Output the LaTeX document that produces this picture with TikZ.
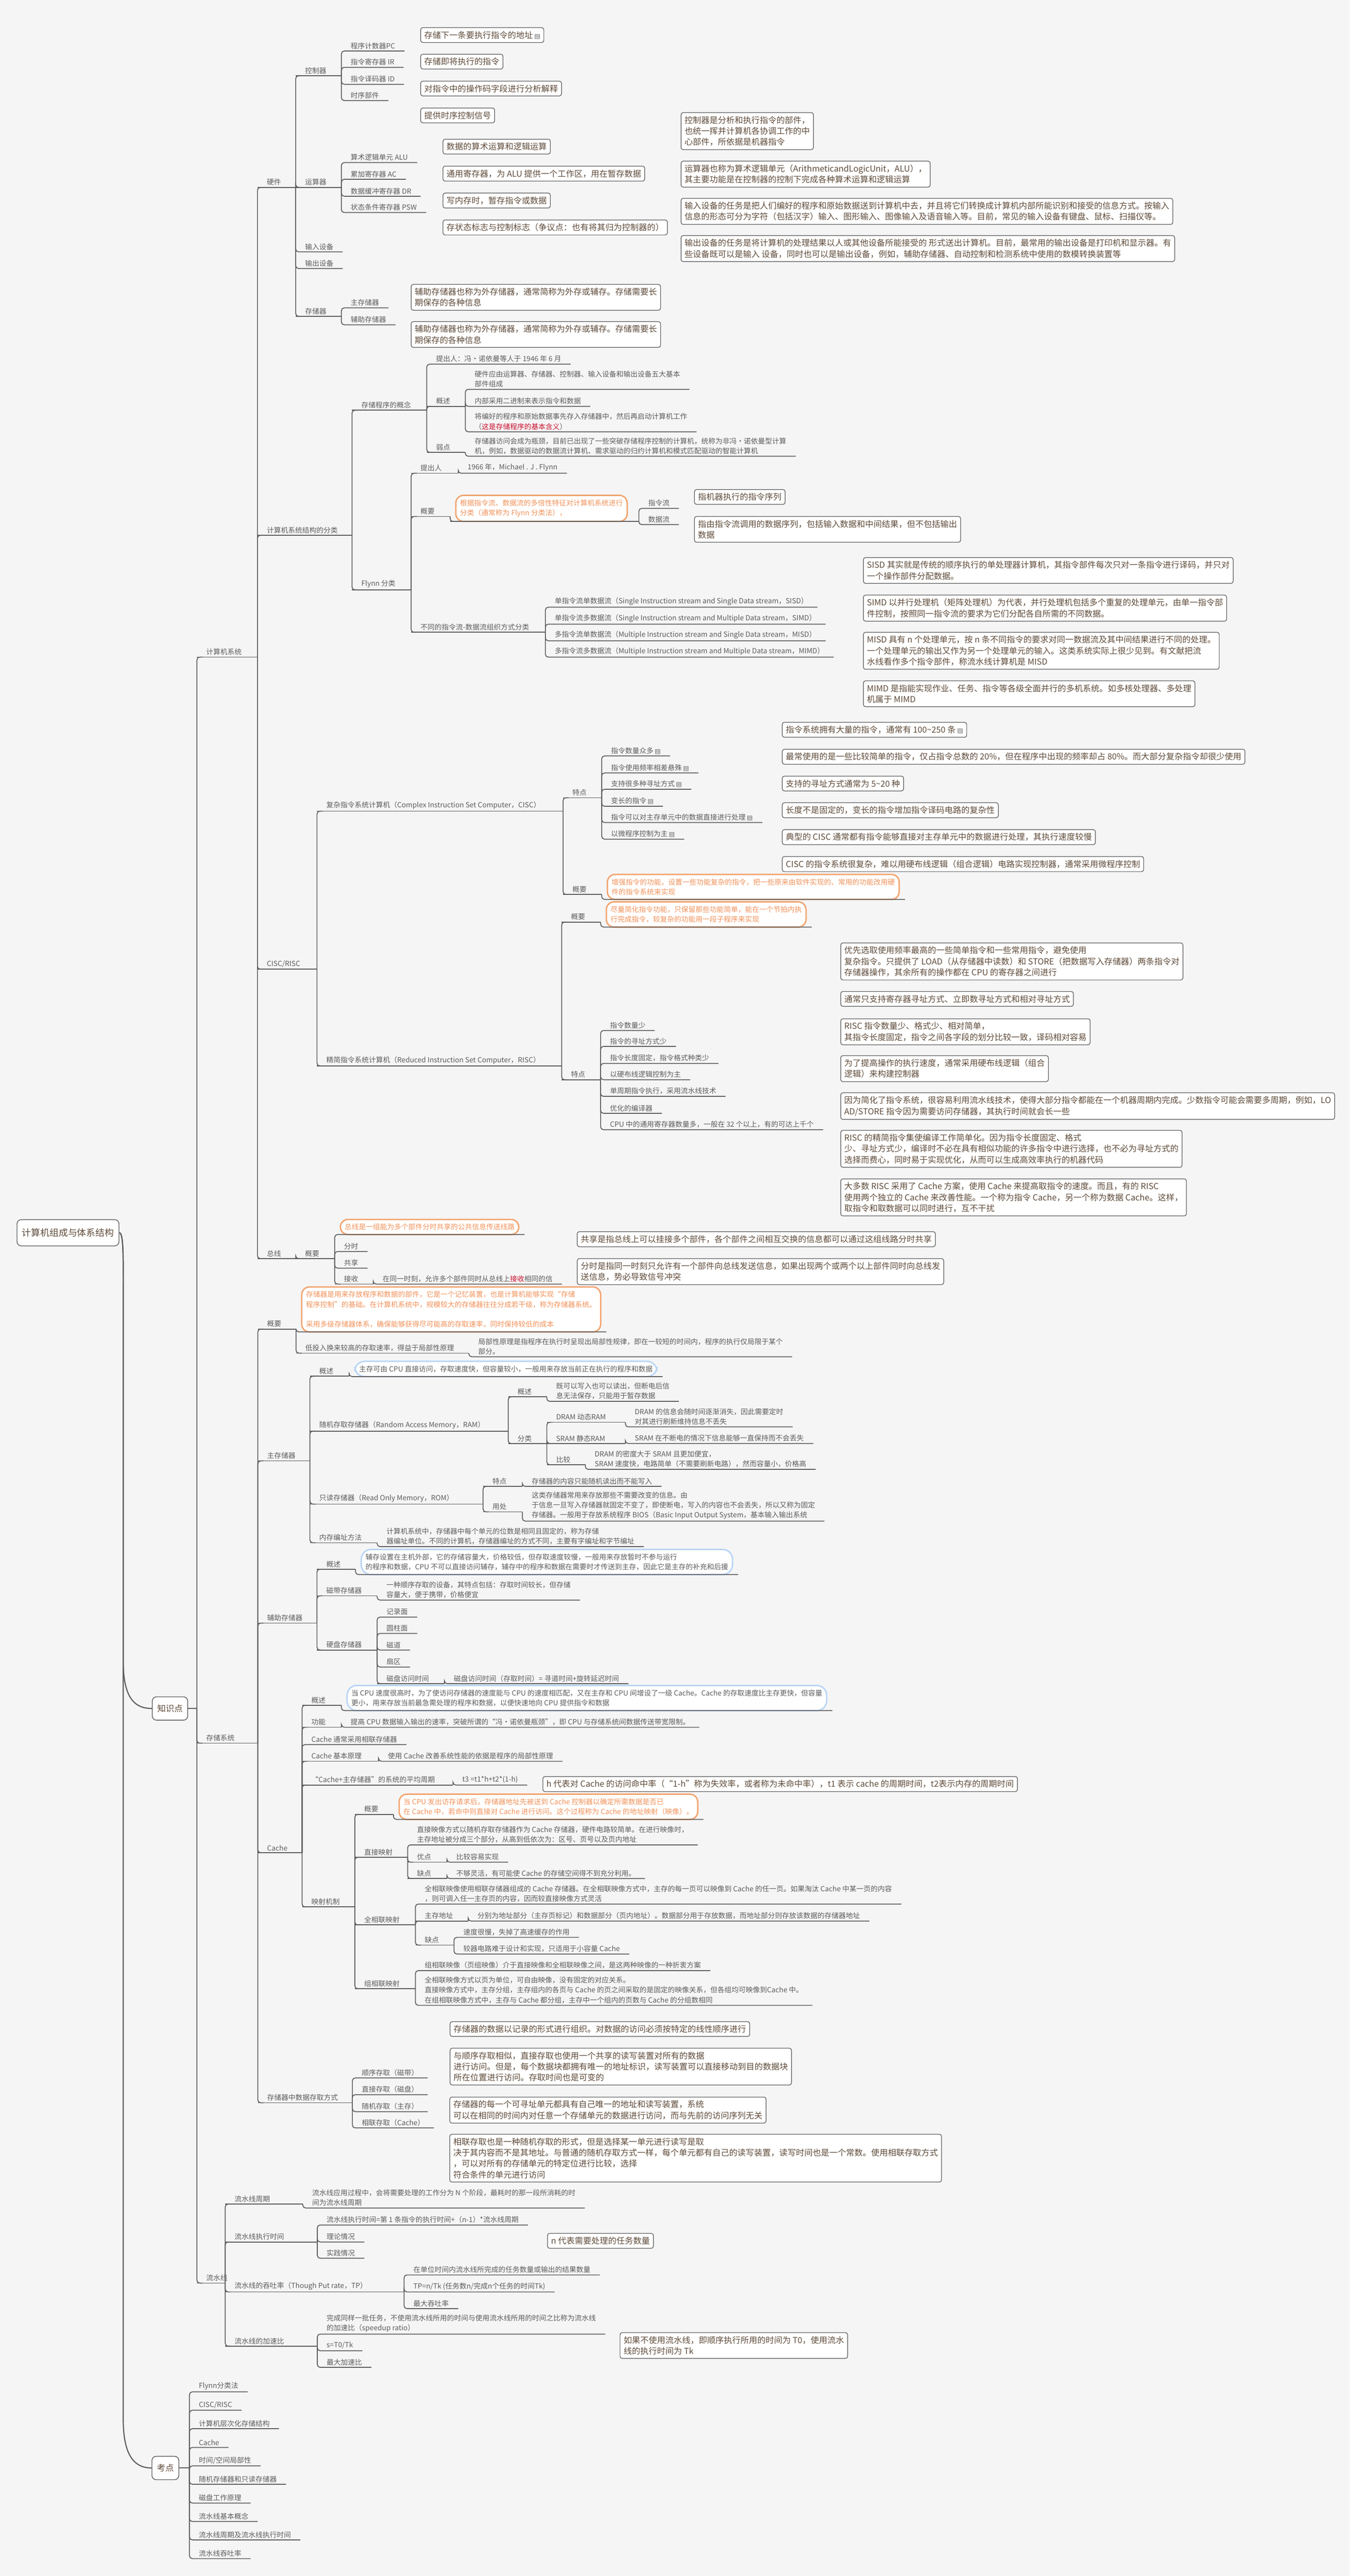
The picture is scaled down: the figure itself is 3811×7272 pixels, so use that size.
\documentclass[tikz,border=0pt]{standalone}
\usepackage{fontspec}
\setmainfont{Noto Sans CJK SC}
\newfontfamily\symf{DejaVu Sans}

\definecolor{bgcol}{HTML}{F5F5F5}
\definecolor{lncol}{HTML}{5E5E5E}
\definecolor{txtcol}{HTML}{5C5C5C}
\definecolor{btxt}{HTML}{5E4B3A}
\definecolor{boxcol}{HTML}{5A5A5A}
\definecolor{orcol}{HTML}{F3A46F}
\definecolor{ortxt}{HTML}{F0925A}
\definecolor{blcol}{HTML}{B8D5F6}
\definecolor{redcol}{HTML}{C8102E}
\definecolor{icocol}{HTML}{6A6A6A}

\newcommand\ptf{\fontsize{10}{14}\selectfont}
\newcommand\bxf{\fontsize{11.8}{15.5}\selectfont}
\newcommand\nic{\,{\symf\color{icocol}\fontsize{9}{9}\selectfont ▤}}
% link to a leaf: underline of the parent, spine, underline of the child
\newcommand\conn[2]{\draw[ln] (#1) -- (#1 -| #2.south west); \draw[ln,rc] (#1 -| #2.south west) |- (#2.south east);}
% link to a topic that has children of its own
\newcommand\connp[2]{\draw[ln] (#1) -- (#1 -| #2.south west); \draw[ln,rc] (#1 -| #2.south west) |- ([xshift=8pt]#2.south west);}

\begin{document}
\begin{tikzpicture}[x=0.5pt, y=-0.5pt,
  ln/.style={draw=lncol, line width=1.25pt},
  rc/.style={rounded corners=4pt},
  tp/.style={anchor=south west, inner xsep=13pt, inner ysep=2.5pt, text=txtcol, font=\ptf, align=left},
  nb/.style={anchor=north west, draw=boxcol, fill=white, rounded corners=3pt, line width=0.9pt, text=btxt, font=\bxf, inner xsep=5pt, inner ysep=5pt, align=left},
  ob/.style={anchor=south west, draw=orcol, fill=white, line width=2pt, rounded corners=11pt, text=ortxt, font=\ptf, inner xsep=6pt, inner ysep=6pt, outer xsep=8pt, outer ysep=0pt, align=left},
  bb/.style={ob, draw=blcol, text=txtcol, rounded corners=14pt},
  topbox/.style={draw=boxcol, fill=white, rounded corners=6pt, line width=1pt, text=btxt, inner xsep=7pt}]
\fill[bgcol] (0,0) rectangle (3811,7272);
\useasboundingbox (0,0) rectangle (3811,7272);

\node[topbox, font=\fontsize{13}{16}\selectfont, minimum height=37pt] (root) at (192,3480) {计算机组成与体系结构};
\node[topbox, font=\fontsize{12}{14}\selectfont, minimum height=33pt] (zsd) at (480,4823) {知识点};
\node[topbox, font=\fontsize{12}{14}\selectfont, minimum height=33pt] (kd) at (467,6967) {考点};
\draw[ln, line width=1.6pt] (root.east) .. controls (350,3480) and (348,3560) .. (348,3700) -- (348,4690) .. controls (348,4800) and (385,4823) .. (zsd.west);
\draw[ln, line width=1.6pt] (root.east) .. controls (350,3480) and (348,3560) .. (348,3700) -- (348,6830) .. controls (348,6940) and (385,6967) .. (kd.west);

% ---------- 计算机系统
\node[tp] (jsj) at (556,1855) {计算机系统};
\node[tp] (yj) at (727,529) {硬件};
\node[tp] (kzq) at (835,214) {控制器};
\node[tp] (pc) at (964,144) {程序计数器PC};
\node[tp] (ir) at (964,190) {指令寄存器 IR};
\node[tp] (idc) at (964,238) {指令译码器 ID};
\node[tp] (sxbj) at (964,284) {时序部件};
\node[tp] (ysq) at (835,529) {运算器};
\node[tp] (alu) at (964,459) {算术逻辑单元 ALU};
\node[tp] (ac) at (964,506) {累加寄存器 AC};
\node[tp] (dr) at (964,554) {数据缓冲寄存器 DR};
\node[tp] (psw) at (964,600) {状态条件寄存器 PSW};
\node[tp] (srsb) at (835,711) {输入设备};
\node[tp] (scsb) at (835,758) {输出设备};
\node[tp] (ccq) at (835,893) {存储器};
\node[tp] (zcq) at (964,869) {主存储器};
\node[tp] (fzcq) at (964,917) {辅助存储器};
\connp{zsd.east}{jsj} \connp{jsj.south west}{yj}
\connp{yj.south west}{kzq} \connp{yj.south west}{ysq} \conn{yj.south west}{srsb} \conn{yj.south west}{scsb} \connp{yj.south west}{ccq}
\conn{kzq.south west}{pc} \conn{kzq.south west}{ir} \conn{kzq.south west}{idc} \conn{kzq.south west}{sxbj}
\conn{ysq.south west}{alu} \conn{ysq.south west}{ac} \conn{ysq.south west}{dr} \conn{ysq.south west}{psw}
\conn{ccq.south west}{zcq} \conn{ccq.south west}{fzcq}

\node[nb] (npc) at (1187,77) {存储下一条要执行指令的地址\nic};
\node[nb] (nir) at (1187,152) {存储即将执行的指令};
\node[nb] (nid) at (1187,228) {对指令中的操作码字段进行分析解释};
\node[nb] (nsx) at (1187,304) {提供时序控制信号};
\node[nb] (nalu) at (1250,392) {数据的算术运算和逻辑运算};
\node[nb] (nac) at (1250,468) {通用寄存器，为 ALU 提供一个工作区，用在暂存数据};
\node[nb] (ndr) at (1250,544) {写内存时，暂存指令或数据};
\node[nb] (npsw) at (1250,620) {存状态标志与控制标志（争议点：也有将其归为控制器的）};
\node[nb] (nzc) at (1160,802) {辅助存储器也称为外存储器，通常简称为外存或辅存。存储需要长\\期保存的各种信息};
\node[nb] (nfz) at (1160,907) {辅助存储器也称为外存储器，通常简称为外存或辅存。存储需要长\\期保存的各种信息};
\node[nb] (nkzq) at (1922,317) {控制器是分析和执行指令的部件，\\也统一挥并计算机各协调工作的中\\心部件，所依据是机器指令};
\node[nb] (nysq) at (1922,454) {运算器也称为算术逻辑单元（ArithmeticandLogicUnit，ALU），\\其主要功能是在控制器的控制下完成各种算术运算和逻辑运算};
\node[nb] (nsr) at (1922,559) {输入设备的任务是把人们编好的程序和原始数据送到计算机中去，并且将它们转换成计算机内部所能识别和接受的信息方式。按输入\\信息的形态可分为字符（包括汉字）输入、图形输入、图像输入及语音输入等。目前，常见的输入设备有键盘、鼠标、扫描仪等。};
\node[nb] (nsc) at (1922,664) {输出设备的任务是将计算机的处理结果以人或其他设备所能接受的 形式送出计算机。目前，最常用的输出设备是打印机和显示器。有\\些设备既可以是输入 设备，同时也可以是输出设备，例如，辅助存储器、自动控制和检测系统中使用的数模转换装置等};

% ---------- 计算机系统结构的分类
\node[tp] (fl) at (727,1511) {计算机系统结构的分类};
\node[tp] (ccgn) at (994,1158) {存储程序的概念};
\node[tp] (tcr) at (1205,1028) {提出人：冯•诺依曼等人于 1946 年 6 月};
\node[tp] (cgs) at (1205,1147) {概述};
\node[tp] (cg1) at (1314,1099) {硬件应由运算器、存储器、控制器、输入设备和输出设备五大基本\\部件组成};
\node[tp] (cg2) at (1314,1147) {内部采用二进制来表示指令和数据};
\node[tp] (cg3) at (1314,1219) {将编好的程序和原始数据事先存入存储器中，然后再启动计算机工作\\（\textcolor{redcol}{这是存储程序的基本含义}）};
\node[tp] (rd) at (1205,1277) {弱点};
\node[tp] (rd1) at (1314,1288) {存储器访问会成为瓶颈，目前已出现了一些突破存储程序控制的计算机，统称为非冯•诺依曼型计算\\机，例如，数据驱动的数据流计算机、需求驱动的归约计算机和模式匹配驱动的智能计算机};
\connp{jsj.south west}{fl} \connp{fl.south west}{ccgn}
\conn{ccgn.south west}{tcr} \connp{ccgn.south west}{cgs} \connp{ccgn.south west}{rd}
\conn{cgs.south west}{cg1} \conn{cgs.south west}{cg2} \conn{cgs.south west}{cg3}
\conn{rd.south west}{rd1}

\node[tp] (flynn) at (994,1665) {Flynn 分类};
\node[tp] (ftcr) at (1161,1336) {提出人};
\node[tp] (ftcr1) at (1294,1336) {1966 年，Michael . J . Flynn};
\node[tp] (fgy) at (1161,1458) {概要};
\node[ob] (fgyb) at (1271,1472) {根据指令流、数据流的多倍性特征对计算机系统进行\\分类（通常称为 Flynn 分类法），};
\node[tp] (zll) at (1804,1435) {指令流};
\node[tp] (sjl) at (1804,1481) {数据流};
\node[tp] (zzfs) at (1161,1785) {不同的指令流-数据流组织方式分类};
\node[tp] (sisd) at (1540,1714) {单指令流单数据流（Single Instruction stream and Single Data stream，SISD）};
\node[tp] (simd) at (1540,1762) {单指令流多数据流（Single Instruction stream and Multiple Data stream，SIMD）};
\node[tp] (misd) at (1540,1809) {多指令流单数据流（Multiple Instruction stream and Single Data stream，MISD）};
\node[tp] (mimd) at (1540,1855) {多指令流多数据流（Multiple Instruction stream and Multiple Data stream，MIMD）};
\connp{fl.south west}{flynn}
\connp{flynn.south west}{ftcr} \conn{ftcr.south west}{ftcr1}
\connp{flynn.south west}{fgy} \connp{fgy.south west}{fgyb}
\conn{fgyb.south west}{zll} \conn{fgyb.south west}{sjl}
\connp{flynn.south west}{zzfs}
\conn{zzfs.south west}{sisd} \conn{zzfs.south west}{simd} \conn{zzfs.south west}{misd} \conn{zzfs.south west}{mimd}

\node[nb] (nzll) at (1960,1381) {指机器执行的指令序列};
\node[nb] (nsjl) at (1960,1457) {指由指令流调用的数据序列，包括输入数据和中间结果，但不包括输出\\数据};
\node[nb] (nsisd) at (2437,1573) {SISD 其实就是传统的顺序执行的单处理器计算机，其指令部件每次只对一条指令进行译码，并只对\\一个操作部件分配数据。};
\node[nb] (nsimd) at (2437,1679) {SIMD 以并行处理机（矩阵处理机）为代表，并行处理机包括多个重复的处理单元，由单一指令部\\件控制，按照同一指令流的要求为它们分配各自所需的不同数据。};
\node[nb] (nmisd) at (2437,1784) {MISD 具有 n 个处理单元，按 n 条不同指令的要求对同一数据流及其中间结果进行不同的处理。\\一个处理单元的输出又作为另一个处理单元的输入。这类系统实际上很少见到。有文献把流\\水线看作多个指令部件，称流水线计算机是 MISD};
\node[nb] (nmimd) at (2437,1921) {MIMD 是指能实现作业、任务、指令等各级全面并行的多机系统。如多核处理器、多处理\\机属于 MIMD};

% ---------- CISC/RISC
\node[tp] (cr) at (727,2736) {CISC/RISC};
\node[tp] (cisc) at (895,2290) {复杂指令系统计算机（Complex Instruction Set Computer，CISC）};
\node[tp] (ctd) at (1590,2252) {特点};
\node[tp] (ct1) at (1699,2134) {指令数量众多\nic};
\node[tp] (ct2) at (1699,2182) {指令使用频率相差悬殊\nic};
\node[tp] (ct3) at (1699,2228) {支持很多种寻址方式\nic};
\node[tp] (ct4) at (1699,2276) {变长的指令\nic};
\node[tp] (ct5) at (1699,2322) {指令可以对主存单元中的数据直接进行处理\nic};
\node[tp] (ct6) at (1699,2369) {以微程序控制为主\nic};
\node[tp] (cgy) at (1590,2525) {概要};
\node[ob] (cgyb) at (1699,2539) {增强指令的功能，设置一些功能复杂的指令，把一些原来由软件实现的、常用的功能改用硬\\件的指令系统来实现};
\connp{jsj.south west}{cr} \connp{cr.south west}{cisc}
\connp{cisc.south west}{ctd} \connp{cisc.south west}{cgy}
\conn{ctd.south west}{ct1} \conn{ctd.south west}{ct2} \conn{ctd.south west}{ct3}
\conn{ctd.south west}{ct4} \conn{ctd.south west}{ct5} \conn{ctd.south west}{ct6}
\conn{cgy.south west}{cgyb}

\node[nb] (nct1) at (2208,2038) {指令系统拥有大量的指令，通常有 100\textasciitilde 250 条\nic};
\node[nb] (nct2) at (2208,2114) {最常使用的是一些比较简单的指令，仅占指令总数的 20\%，但在程序中出现的频率却占 80\%。而大部分复杂指令却很少使用};
\node[nb] (nct3) at (2208,2190) {支持的寻址方式通常为 5\textasciitilde 20 种};
\node[nb] (nct4) at (2208,2265) {长度不是固定的，变长的指令增加指令译码电路的复杂性};
\node[nb] (nct5) at (2208,2341) {典型的 CISC 通常都有指令能够直接对主存单元中的数据进行处理，其执行速度较慢};
\node[nb] (nct6) at (2208,2417) {CISC 的指令系统很复杂，难以用硬布线逻辑（组合逻辑）电路实现控制器，通常采用微程序控制};

\node[tp] (risc) at (895,3009) {精简指令系统计算机（Reduced Instruction Set Computer，RISC）};
\node[tp] (rgy) at (1586,2603) {概要};
\node[ob] (rgyb) at (1696,2617) {尽量简化指令功能，只保留那些功能简单，能在一个节拍内执\\行完成指令，较复杂的功能用一段子程序来实现};
\node[tp] (rtd) at (1586,3048) {特点};
\node[tp] (rt1) at (1696,2909) {指令数量少};
\node[tp] (rt2) at (1696,2954) {指令的寻址方式少};
\node[tp] (rt3) at (1696,3002) {指令长度固定，指令格式种类少};
\node[tp] (rt4) at (1696,3048) {以硬布线逻辑控制为主};
\node[tp] (rt5) at (1696,3095) {单周期指令执行，采用流水线技术};
\node[tp] (rt6) at (1696,3143) {优化的编译器};
\node[tp] (rt7) at (1696,3189) {CPU 中的通用寄存器数量多，一般在 32 个以上，有的可达上千个};
\connp{cr.south west}{risc}
\connp{risc.south west}{rgy} \conn{rgy.south west}{rgyb}
\connp{risc.south west}{rtd}
\conn{rtd.south west}{rt1} \conn{rtd.south west}{rt2} \conn{rtd.south west}{rt3} \conn{rtd.south west}{rt4}
\conn{rtd.south west}{rt5} \conn{rtd.south west}{rt6} \conn{rtd.south west}{rt7}

\node[nb] (nrt1) at (2373,2661) {优先选取使用频率最高的一些简单指令和一些常用指令，避免使用\\复杂指令。只提供了 LOAD（从存储器中读数）和 STORE（把数据写入存储器）两条指令对\\存储器操作，其余所有的操作都在 CPU 的寄存器之间进行};
\node[nb] (nrt2) at (2373,2798) {通常只支持寄存器寻址方式、立即数寻址方式和相对寻址方式};
\node[nb] (nrt3) at (2373,2875) {RISC 指令数量少、格式少、相对简单，\\其指令长度固定，指令之间各字段的划分比较一致，译码相对容易};
\node[nb] (nrt4) at (2373,2979) {为了提高操作的执行速度，通常采用硬布线逻辑（组合\\逻辑）来构建控制器};
\node[nb] (nrt5) at (2373,3084) {因为简化了指令系统，很容易利用流水线技术，使得大部分指令都能在一个机器周期内完成。少数指令可能会需要多周期，例如，LO\\AD/STORE 指令因为需要访问存储器，其执行时间就会长一些};
\node[nb] (nrt6) at (2373,3190) {RISC 的精简指令集使编译工作简单化。因为指令长度固定、格式\\少、寻址方式少，编译时不必在具有相似功能的许多指令中进行选择，也不必为寻址方式的\\选择而费心，同时易于实现优化，从而可以生成高效率执行的机器代码};
\node[nb] (nrt7) at (2373,3327) {大多数 RISC 采用了 Cache 方案，使用 Cache 来提高取指令的速度。而且，有的 RISC\\使用两个独立的 Cache 来改善性能。一个称为指令 Cache，另一个称为数据 Cache。这样，\\取指令和取数据可以同时进行，互不干扰};

% ---------- 总线
\node[tp] (zx) at (727,3553) {总线};
\node[tp] (zxgy) at (835,3553) {概要};
\node[ob] (zxdy) at (945,3485) {总线是一组能为多个部件分时共享的公共信息传送线路};
\node[tp] (fs) at (945,3533) {分时};
\node[tp] (gx) at (945,3580) {共享};
\node[tp] (js) at (945,3625) {接收};
\node[tp] (js1) at (1054,3625) {在同一时刻，允许多个部件同时从总线上\textcolor{redcol}{接收}相同的信};
\connp{jsj.south west}{zx} \connp{zx.south west}{zxgy}
\conn{zxgy.south west}{zxdy} \conn{zxgy.south west}{fs} \conn{zxgy.south west}{gx} \connp{zxgy.south west}{js}
\conn{js.south west}{js1}
\node[nb] (ngx) at (1629,3476) {共享是指总线上可以挂接多个部件，各个部件之间相互交换的信息都可以通过这组线路分时共享};
\node[nb] (nfs) at (1629,3552) {分时是指同一时刻只允许有一个部件向总线发送信息，如果出现两个或两个以上部件同时向总线发\\送信息，势必导致信号冲突};

% ---------- 存储系统
\node[tp] (ccxt) at (556,4921) {存储系统};
\connp{zsd.east}{ccxt}
\node[tp] (sgy) at (728,3752) {概要};
\node[ob] (sgyb) at (836,3760) {存储器是用来存放程序和数据的部件，它是一个记忆装置，也是计算机能够实现“存储\\程序控制”的基础。在计算机系统中，规模较大的存储器往往分成若干级，称为存储器系统。\\[14pt]采用多级存储器体系，确保能够获得尽可能高的存取速率，同时保持较低的成本};
\node[tp] (jbx) at (836,3820) {低投入换来较高的存取速率，得益于局部性原理};
\node[tp] (jbx1) at (1324,3830) {局部性原理是指程序在执行时呈现出局部性规律，即在一较短的时间内，程序的执行仅局限于某个\\部分。};
\connp{ccxt.south west}{sgy}
\conn{sgy.south west}{sgyb} \connp{sgy.south west}{jbx} \conn{jbx.south west}{jbx1}

\node[tp] (zc) at (728,4124) {主存储器};
\node[tp] (zgs) at (875,3885) {概述};
\node[bb] (zgsb) at (986,3886) {主存可由 CPU 直接访问，存取速度快，但容量较小，一般用来存放当前正在执行的程序和数据};
\node[tp] (ram) at (875,4040) {随机存取存储器（Random Access Memory，RAM）};
\node[tp] (rgs) at (1435,3943) {概述};
\node[tp] (rgs1) at (1544,3956) {既可以写入也可以读出，但断电后信\\息无法保存，只能用于暂存数据};
\node[tp] (rfl) at (1435,4075) {分类};
\node[tp] (dram) at (1544,4015) {DRAM 动态RAM};
\node[tp] (dram1) at (1766,4028) {DRAM 的信息会随时间逐渐消失，因此需要定时\\对其进行刷新维持信息不丢失};
\node[tp] (sram) at (1544,4075) {SRAM 静态RAM};
\node[tp] (sram1) at (1766,4075) {SRAM 在不断电的情况下信息能够一直保持而不会丢失};
\node[tp] (bj) at (1544,4135) {比较};
\node[tp] (bj1) at (1653,4148) {DRAM 的密度大于 SRAM 且更加便宜，\\SRAM 速度快，电路简单（不需要刷新电路），然而容量小，价格高};
\node[tp] (rom) at (875,4246) {只读存储器（Read Only Memory，ROM）};
\node[tp] (otd) at (1364,4196) {特点};
\node[tp] (otd1) at (1475,4196) {存储器的内容只能随机读出而不能写入};
\node[tp] (oyc) at (1364,4268) {用处};
\node[tp] (oyc1) at (1475,4294) {这类存储器常用来存放那些不需要改变的信息。由\\于信息一旦写入存储器就固定不变了，即使断电，写入的内容也不会丢失，所以又称为固定\\存储器。一般用于存放系统程序 BIOS（Basic Input Output System，基本输入输出系统};
\node[tp] (bz) at (875,4355) {内存编址方法};
\node[tp] (bz1) at (1065,4366) {计算机系统中，存储器中每个单元的位数是相同且固定的，称为存储\\器编址单位。不同的计算机，存储器编址的方式不同，主要有字编址和字节编址};
\connp{ccxt.south west}{zc}
\connp{zc.south west}{zgs} \conn{zgs.south west}{zgsb}
\connp{zc.south west}{ram}
\connp{ram.south west}{rgs} \conn{rgs.south west}{rgs1}
\connp{ram.south west}{rfl}
\connp{rfl.south west}{dram} \conn{dram.south west}{dram1}
\connp{rfl.south west}{sram} \conn{sram.south west}{sram1}
\connp{rfl.south west}{bj} \conn{bj.south west}{bj1}
\connp{zc.south west}{rom}
\connp{rom.south west}{otd} \conn{otd.south west}{otd1}
\connp{rom.south west}{oyc} \conn{oyc.south west}{oyc1}
\connp{zc.south west}{bz} \conn{bz.south west}{bz1}

\node[tp] (fz) at (728,4582) {辅助存储器};
\node[tp] (fgs) at (895,4430) {概述};
\node[bb] (fgsb) at (1004,4445) {辅存设置在主机外部，它的存储容量大，价格较低，但存取速度较慢，一般用来存放暂时不参与运行\\的程序和数据，CPU 不可以直接访问辅存，辅存中的程序和数据在需要时才传送到主存，因此它是主存的补充和后援};
\node[tp] (cd) at (895,4505) {磁带存储器};
\node[tp] (cd1) at (1065,4517) {一种顺序存取的设备，其特点包括：存取时间较长，但存储\\容量大，便于携带，价格便宜};
\node[tp] (yp) at (895,4658) {硬盘存储器};
\node[tp] (yp1) at (1065,4565) {记录面};
\node[tp] (yp2) at (1065,4611) {圆柱面};
\node[tp] (yp3) at (1065,4658) {磁道};
\node[tp] (yp4) at (1065,4706) {扇区};
\node[tp] (yp5) at (1065,4753) {磁盘访问时间};
\node[tp] (yp6) at (1255,4753) {磁盘访问时间（存取时间）= 寻道时间+旋转延迟时间};
\connp{ccxt.south west}{fz}
\connp{fz.south west}{fgs} \conn{fgs.south west}{fgsb}
\connp{fz.south west}{cd} \conn{cd.south west}{cd1}
\connp{fz.south west}{yp}
\conn{yp.south west}{yp1} \conn{yp.south west}{yp2} \conn{yp.south west}{yp3} \conn{yp.south west}{yp4}
\connp{yp.south west}{yp5} \conn{yp5.south west}{yp6}

% ---------- Cache
\node[tp] (cache) at (728,5230) {Cache};
\node[tp] (kgs) at (853,4814) {概述};
\node[bb] (kgsb) at (964,4829) {当 CPU 速度很高时，为了使访问存储器的速度能与 CPU 的速度相匹配，又在主存和 CPU 间增设了一级 Cache。Cache 的存取速度比主存更快，但容量\\更小，用来存放当前最急需处理的程序和数据，以便快速地向 CPU 提供指令和数据};
\node[tp] (kgn) at (853,4876) {功能};
\node[tp] (kgn1) at (964,4876) {提高 CPU 数据输入输出的速率，突破所谓的“冯•诺依曼瓶颈”，即 CPU 与存储系统间数据传送带宽限制。};
\node[tp] (kxl) at (853,4925) {Cache 通常采用相联存储器};
\node[tp] (kyl) at (853,4972) {Cache 基本原理};
\node[tp] (kyl1) at (1069,4972) {使用 Cache 改善系统性能的依据是程序的局部性原理};
\node[tp] (kpj) at (853,5039) {“Cache+主存储器”的系统的平均周期};
\node[tp] (kpj1) at (1279,5039) {t3 =t1*h+t2*(1-h)};
\node[nb] (nkpj) at (1532,5014) {h 代表对 Cache 的访问命中率（“1-h”称为失效率，或者称为未命中率），t1 表示 cache 的周期时间，t2表示内存的周期时间};
\node[tp] (kys) at (853,5383) {映射机制};
\node[tp] (ygy) at (1002,5122) {概要};
\node[ob] (ygyb) at (1111,5136) {当 CPU 发出访存请求后，存储器地址先被送到 Cache 控制器以确定所需数据是否已\\在 Cache 中，若命中则直接对 Cache 进行访问。这个过程称为 Cache 的地址映射（映像）。};
\node[tp] (zj) at (1002,5243) {直接映射};
\node[tp] (zj1) at (1151,5208) {直接映像方式以随机存取存储器作为 Cache 存储器，硬件电路较简单。在进行映像时，\\主存地址被分成三个部分，从高到低依次为：区号、页号以及页内地址};
\node[tp] (zjy) at (1151,5257) {优点};
\node[tp] (zjy1) at (1262,5257) {比较容易实现};
\node[tp] (zjq) at (1151,5303) {缺点};
\node[tp] (zjq1) at (1262,5303) {不够灵活，有可能使 Cache 的存储空间得不到充分利用。};
\node[tp] (qx) at (1002,5434) {全相联映射};
\node[tp] (qx1) at (1173,5375) {全相联映像使用相联存储器组成的 Cache 存储器。在全相联映像方式中，主存的每一页可以映像到 Cache 的任一页。如果淘汰 Cache 中某一页的内容\\，则可调入任一主存页的内容，因而较直接映像方式灵活};
\node[tp] (qxz) at (1173,5423) {主存地址};
\node[tp] (qxz1) at (1322,5423) {分别为地址部分（主存页标记）和数据部分（页内地址）。数据部分用于存放数据，而地址部分则存放该数据的存储器地址};
\node[tp] (qxq) at (1173,5491) {缺点};
\node[tp] (qxq1) at (1282,5469) {速度很慢，失掉了高速缓存的作用};
\node[tp] (qxq2) at (1282,5516) {较器电路难于设计和实现，只适用于小容量 Cache};
\node[tp] (zx3) at (1002,5614) {组相联映射};
\node[tp] (zx31) at (1173,5563) {组相联映像（页组映像）介于直接映像和全相联映像之间，是这两种映像的一种折衷方案};
\node[tp] (zx32) at (1173,5661) {全相联映像方式以页为单位，可自由映像，没有固定的对应关系。\\直接映像方式中，主存分组，主存组内的各页与 Cache 的页之间采取的是固定的映像关系，但各组均可映像到Cache 中。\\在组相联映像方式中，主存与 Cache 都分组，主存中一个组内的页数与 Cache 的分组数相同};
\connp{ccxt.south west}{cache}
\connp{cache.south west}{kgs} \conn{kgs.south west}{kgsb}
\connp{cache.south west}{kgn} \conn{kgn.south west}{kgn1}
\conn{cache.south west}{kxl}
\connp{cache.south west}{kyl} \conn{kyl.south west}{kyl1}
\connp{cache.south west}{kpj} \conn{kpj.south west}{kpj1}
\connp{cache.south west}{kys}
\connp{kys.south west}{ygy} \conn{ygy.south west}{ygyb}
\connp{kys.south west}{zj}
\conn{zj.south west}{zj1} \connp{zj.south west}{zjy} \conn{zjy.south west}{zjy1} \connp{zj.south west}{zjq} \conn{zjq.south west}{zjq1}
\connp{kys.south west}{qx}
\conn{qx.south west}{qx1} \connp{qx.south west}{qxz} \conn{qxz.south west}{qxz1}
\connp{qx.south west}{qxq} \conn{qxq.south west}{qxq1} \conn{qxq.south west}{qxq2}
\connp{kys.south west}{zx3}
\conn{zx3.south west}{zx31} \conn{zx3.south west}{zx32}

% ---------- 存储器中数据存取方式
\node[tp] (cqfs) at (728,5936) {存储器中数据存取方式};
\node[tp] (cq1) at (995,5866) {顺序存取（磁带）};
\node[tp] (cq2) at (995,5913) {直接存取（磁盘）};
\node[tp] (cq3) at (995,5961) {随机存取（主存）};
\node[tp] (cq4) at (995,6007) {相联存取（Cache）};
\connp{ccxt.south west}{cqfs}
\conn{cqfs.south west}{cq1} \conn{cqfs.south west}{cq2} \conn{cqfs.south west}{cq3} \conn{cqfs.south west}{cq4}
\node[nb] (ncq1) at (1270,5706) {存储器的数据以记录的形式进行组织。对数据的访问必须按特定的线性顺序进行};
\node[nb] (ncq2) at (1270,5781) {与顺序存取相似，直接存取也使用一个共享的读写装置对所有的数据\\进行访问。但是，每个数据块都拥有唯一的地址标识，读写装置可以直接移动到目的数据块\\所在位置进行访问。存取时间也是可变的};
\node[nb] (ncq3) at (1269,5919) {存储器的每一个可寻址单元都具有自己唯一的地址和读写装置，系统\\可以在相同的时间内对任意一个存储单元的数据进行访问，而与先前的访问序列无关};
\node[nb] (ncq4) at (1269,6024) {相联存取也是一种随机存取的形式，但是选择某一单元进行读写是取\\决于其内容而不是其地址。与普通的随机存取方式一样，每个单元都有自己的读写装置，读写时间也是一个常数。使用相联存取方式\\，可以对所有的存储单元的特定位进行比较，选择\\符合条件的单元进行访问};

% ---------- 流水线
\node[tp] (lsx) at (556,6445) {流水线};
\node[tp] (lzq) at (636,6222) {流水线周期};
\node[tp] (lzq1) at (855,6233) {流水线应用过程中，会将需要处理的工作分为 N 个阶段，最耗时的那一段所消耗的时\\间为流水线周期};
\node[tp] (lzx) at (636,6329) {流水线执行时间};
\node[tp] (lzx1) at (896,6281) {流水线执行时间=第 1 条指令的执行时间+（n-1）*流水线周期};
\node[tp] (lzx2) at (896,6329) {理论情况};
\node[tp] (lzx3) at (896,6375) {实践情况};
\node[nb] (nlzx) at (1545,6304) {n 代表需要处理的任务数量};
\node[tp] (ltt) at (636,6470) {流水线的吞吐率（Though Put rate，TP）};
\node[tp] (ltt1) at (1141,6422) {在单位时间内流水线所完成的任务数量或输出的结果数量};
\node[tp] (ltt2) at (1141,6470) {TP=n/Tk (任务数n/完成n个任务的时间Tk)};
\node[tp] (ltt3) at (1141,6517) {最大吞吐率};
\node[tp] (ljs) at (636,6623) {流水线的加速比};
\node[tp] (ljs1) at (896,6589) {完成同样一批任务，不使用流水线所用的时间与使用流水线所用的时间之比称为流水线\\的加速比（speedup ratio）};
\node[tp] (ljs2) at (896,6636) {s=T0/Tk};
\node[tp] (ljs3) at (896,6683) {最大加速比};
\node[nb] (nljs) at (1750,6584) {如果不使用流水线，即顺序执行所用的时间为 T0，使用流水\\线的执行时间为 Tk};
\connp{zsd.east}{lsx}
\connp{lsx.south west}{lzq} \conn{lzq.south west}{lzq1}
\connp{lsx.south west}{lzx} \conn{lzx.south west}{lzx1} \conn{lzx.south west}{lzx2} \conn{lzx.south west}{lzx3}
\connp{lsx.south west}{ltt} \conn{ltt.south west}{ltt1} \conn{ltt.south west}{ltt2} \conn{ltt.south west}{ltt3}
\connp{lsx.south west}{ljs} \conn{ljs.south west}{ljs1} \conn{ljs.south west}{ljs2} \conn{ljs.south west}{ljs3}

% ---------- 考点
\node[tp] (k1) at (535,6752) {Flynn分类法};
\node[tp] (k2) at (535,6804) {CISC/RISC};
\node[tp] (k3) at (535,6856) {计算机层次化存储结构};
\node[tp] (k4) at (535,6909) {Cache};
\node[tp] (k5) at (535,6961) {时间/空间局部性};
\node[tp] (k6) at (535,7013) {随机存储器和只读存储器};
\node[tp] (k7) at (535,7066) {磁盘工作原理};
\node[tp] (k8) at (535,7118) {流水线基本概念};
\node[tp] (k9) at (535,7170) {流水线周期及流水线执行时间};
\node[tp] (k10) at (535,7223) {流水线吞吐率};
\conn{kd.east}{k1} \conn{kd.east}{k2} \conn{kd.east}{k3} \conn{kd.east}{k4} \conn{kd.east}{k5}
\conn{kd.east}{k6} \conn{kd.east}{k7} \conn{kd.east}{k8} \conn{kd.east}{k9} \conn{kd.east}{k10}
\end{tikzpicture}
\end{document}
